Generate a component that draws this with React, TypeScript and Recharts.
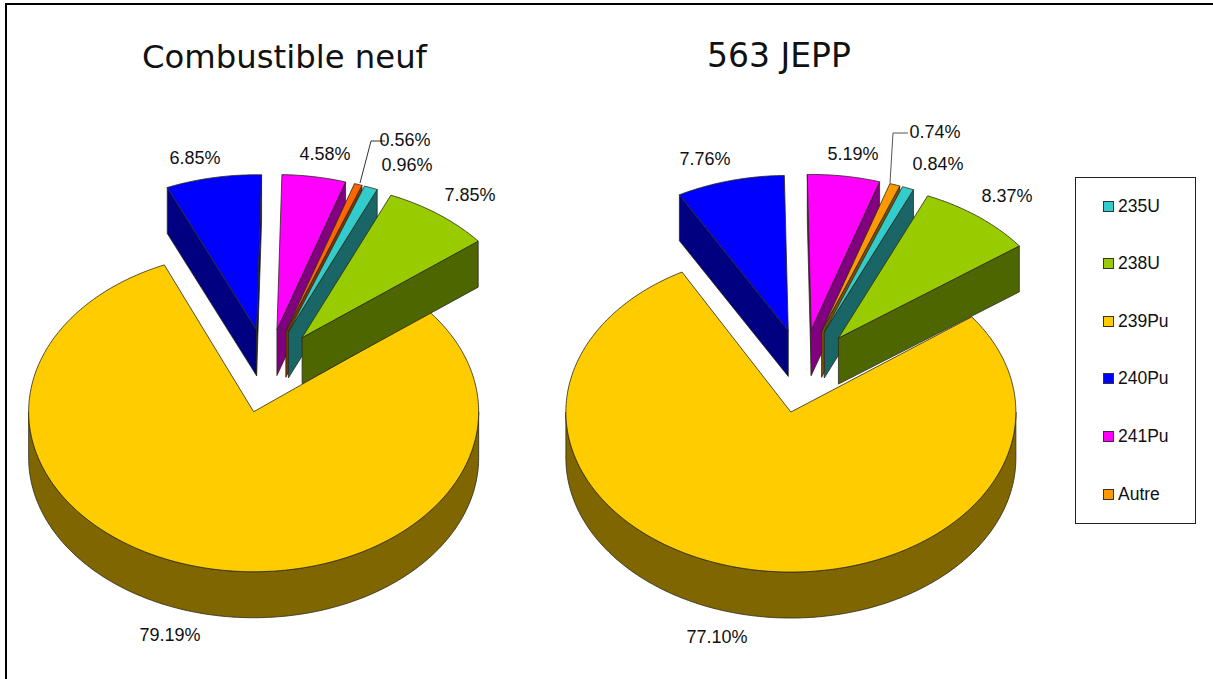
import React from 'react';
import { PieChart, Pie } from 'recharts';

const sliceNames = ['239Pu', '240Pu', '241Pu', 'Autre', '235U', '238U'];
const neufValues = [79.19, 6.85, 4.58, 0.56, 0.96, 7.85];
const jeppValues = [77.1, 7.76, 5.19, 0.74, 0.84, 8.37];
const legendNames = ['235U', '238U', '239Pu', '240Pu', '241Pu', 'Autre'];

const topColors: Record<string, string> = {
  '235U': '#33CCCC',
  '238U': '#99CC00',
  '239Pu': '#FFCC00',
  '240Pu': '#0000FF',
  '241Pu': '#FF00FF',
  Autre: '#FF9900',
};
const sideColors: Record<string, string> = {
  '235U': '#1A6666',
  '238U': '#4D6600',
  '239Pu': '#806600',
  '240Pu': '#000080',
  '241Pu': '#800080',
  Autre: '#804C00',
};

// where each percentage sits, per pie (centre of the text)
const neufLabelPos: Record<string, [number, number]> = {
  '239Pu': [170, 635],
  '240Pu': [195, 158],
  '241Pu': [325, 154],
  Autre: [405, 140],
  '235U': [407, 165],
  '238U': [470, 195],
};
const jeppLabelPos: Record<string, [number, number]> = {
  '239Pu': [717, 637],
  '240Pu': [705, 159],
  '241Pu': [853, 154],
  Autre: [935, 132],
  '235U': [938, 164],
  '238U': [1007, 196],
};

const FRONT_SQUASH = 160 / 225;
const BACK_SQUASH = 155 / 225; // the far slices look a little flatter
const DEPTH = 46;
const EXPLODE_X = 57;
const EXPLODE_Y = 42;
const RAD = Math.PI / 180;
const OUTLINE = '#2a2a1a';

const makeTable = (values: number[]) => sliceNames.map((name, i) => ({ name, value: values[i] }));

// Recharts gives the angles, this only tilts and extrudes the sector
const tiltedSlice = (autreColor: string) => (props: any) => {
  const { cx, cy, outerRadius: r, startAngle, endAngle, midAngle, name, percent } = props;
  const ox = cx + EXPLODE_X * Math.cos(midAngle * RAD);
  const oy = cy - EXPLODE_Y * Math.sin(midAngle * RAD);
  const backSquash = percent > 0.5 ? FRONT_SQUASH : BACK_SQUASH;

  const pt = (a: number, dy = 0) => {
    const s = Math.sin(a * RAD);
    const ry = r * (s > 0 ? backSquash : FRONT_SQUASH);
    return `${(ox + r * Math.cos(a * RAD)).toFixed(2)} ${(oy - ry * s + dy).toFixed(2)}`;
  };
  const arc = (from: number, to: number, dy = 0) => {
    const steps = Math.max(2, Math.ceil(Math.abs(from - to)));
    const out: string[] = [];
    for (let i = 0; i <= steps; i++) {
      out.push(pt(from + ((to - from) * i) / steps, dy));
    }
    return out.join(' L');
  };
  const apex = `${ox.toFixed(2)} ${oy.toFixed(2)}`;
  const apexLow = `${ox.toFixed(2)} ${(oy + DEPTH).toFixed(2)}`;

  const top = name === 'Autre' ? autreColor : topColors[name];
  const side = name === 'Autre' && autreColor === '#FF6600' ? '#803300' : sideColors[name];

  const walls: string[] = [];
  // radial walls that face the viewer
  if (Math.cos(startAngle * RAD) < 0) {
    walls.push(`M${apex} L${pt(startAngle)} L${pt(startAngle, DEPTH)} L${apexLow} Z`);
  }
  if (Math.cos(endAngle * RAD) > 0) {
    walls.push(`M${apex} L${pt(endAngle)} L${pt(endAngle, DEPTH)} L${apexLow} Z`);
  }
  // rim, only the front half of the ellipse shows
  const hi = Math.min(startAngle, 0);
  const lo = Math.max(endAngle, -180);
  if (hi > lo) {
    walls.push(`M${arc(hi, lo)} L${arc(lo, hi, DEPTH)} Z`);
  }

  return (
    <g>
      {walls.map((d, i) => (
        <path key={i} d={d} fill={side} stroke={OUTLINE} strokeWidth={0.8} strokeLinejoin="round" />
      ))}
      <path
        d={`M${apex} L${arc(startAngle, endAngle)} Z`}
        fill={top}
        stroke={OUTLINE}
        strokeWidth={0.8}
        strokeLinejoin="round"
      />
    </g>
  );
};

const percentLabel = (positions: Record<string, [number, number]>) => (props: any) => {
  const [x, y] = positions[props.name];
  return (
    <text x={x} y={y} textAnchor="middle" dominantBaseline="central" fontFamily="Liberation Sans" fontSize={18} fill="#111">
      {props.value.toFixed(2)}%
    </text>
  );
};

const App = () => (
  <div style={{ position: 'absolute', left: 0, top: 0, width: 1213, height: 679, background: '#fff', overflow: 'hidden' }}>
    {/* only the top and left edges of the frame are inside the picture */}
    <div style={{ position: 'absolute', left: 5, top: 3, width: 1300, height: 800, borderTop: '2px solid #000', borderLeft: '2px solid #000' }} />
    <div style={{ position: 'absolute', left: 142, top: 38, fontFamily: 'DejaVu Sans', fontSize: 32.3, color: '#111', whiteSpace: 'nowrap' }}>
      Combustible neuf
    </div>
    <div style={{ position: 'absolute', left: 707, top: 36, fontFamily: 'DejaVu Sans', fontSize: 33, color: '#111', whiteSpace: 'nowrap' }}>
      563 JEPP
    </div>

    <div style={{ position: 'absolute', left: 0, top: 0 }}>
      <PieChart width={1213} height={679} margin={{ top: 0, right: 0, bottom: 0, left: 0 }}>
        <Pie
          data={makeTable(neufValues)}
          dataKey="value"
          nameKey="name"
          cx={267.5}
          cy={371}
          outerRadius={225}
          startAngle={38.5}
          endAngle={-321.5}
          shape={tiltedSlice('#FF6600')}
          label={percentLabel(neufLabelPos)}
          labelLine={false}
          isAnimationActive={false}
        />
        <Pie
          data={makeTable(jeppValues)}
          dataKey="value"
          nameKey="name"
          cx={803}
          cy={371}
          outerRadius={225}
          startAngle={36.5}
          endAngle={-323.5}
          shape={tiltedSlice('#FF9900')}
          label={percentLabel(jeppLabelPos)}
          labelLine={false}
          isAnimationActive={false}
        />
        {/* leader lines for the thin Autre slices */}
        <polyline points="360,183 371,141 385,141" fill="none" stroke="#333" strokeWidth={1} />
        <polyline points="890,183 893,133 908,133" fill="none" stroke="#555" strokeWidth={1} />
      </PieChart>
    </div>

    <div style={{ position: 'absolute', left: 1075, top: 177, width: 121, height: 347, border: '1px solid #222', boxSizing: 'border-box', background: '#fff' }}>
      {legendNames.map((name, i) => (
        <div key={name} style={{ position: 'absolute', left: 27, top: 17 + i * 57.6, display: 'flex', alignItems: 'center', height: 22, fontFamily: 'Liberation Sans', fontSize: 17.5, color: '#111' }}>
          <span style={{ width: 9, height: 9, background: topColors[name], border: '1px solid #333', marginRight: 4, display: 'inline-block' }} />
          {name}
        </div>
      ))}
    </div>
  </div>
);

export default App;
